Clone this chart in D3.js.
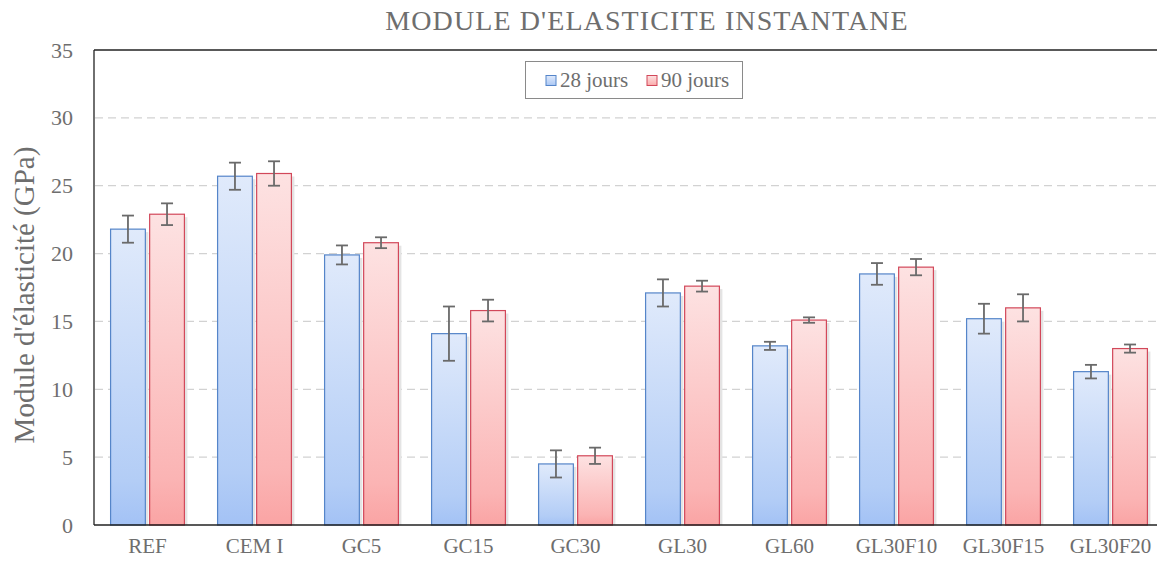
<!DOCTYPE html>
<html><head><meta charset="utf-8">
<script src="https://cdn.jsdelivr.net/npm/d3@7"></script>
<style>body{margin:0;background:#fff}svg{display:block}</style>
</head><body>
<script>
const categories = ["REF","CEM I","GC5","GC15","GC30","GL30","GL60","GL30F10","GL30F15","GL30F20"];
const seriesNames = ["28 jours","90 jours"];
const values28 = [21.8,25.7,19.9,14.1,4.5,17.1,13.2,18.5,15.2,11.3];
const errors28 = [1.0,1.0,0.7,2.0,1.0,1.0,0.3,0.8,1.1,0.5];
const values90 = [22.9,25.9,20.8,15.8,5.1,17.6,15.1,19.0,16.0,13.0];
const errors90 = [0.8,0.9,0.4,0.8,0.6,0.4,0.2,0.6,1.0,0.3];
const yTicks = [0,5,10,15,20,25,30,35];
const title = "MODULE D'ELASTICITE INSTANTANE";
const yTitle = "Module d'élasticité (GPa)";

const W = 1157, H = 565;
const m = {left:94, top:50, right:1164, bottom:525};
const svg = d3.select("body").append("svg").attr("width",W).attr("height",H);
const defs = svg.append("defs");
const gb = defs.append("linearGradient").attr("id","gBlue").attr("x1",0).attr("y1",0).attr("x2",0).attr("y2",1);
gb.append("stop").attr("offset","0%").attr("stop-color","#e0eafb");
gb.append("stop").attr("offset","85%").attr("stop-color","#b3cdf6");
gb.append("stop").attr("offset","100%").attr("stop-color","#a3c2f5");
const gr = defs.append("linearGradient").attr("id","gRed").attr("x1",0).attr("y1",0).attr("x2",0).attr("y2",1);
gr.append("stop").attr("offset","0%").attr("stop-color","#fde2e2");
gr.append("stop").attr("offset","85%").attr("stop-color","#fbb4b4");
gr.append("stop").attr("offset","100%").attr("stop-color","#faa4a4");

const font = "Liberation Serif, Times New Roman, serif";
const y = d3.scaleLinear().domain([0,35]).range([m.bottom,m.top]);
const x = d3.scaleBand().domain(categories).range([m.left,m.right]).paddingInner(0.31).paddingOuter(0.155);
const xs = d3.scaleBand().domain(seriesNames).range([0,x.bandwidth()]).paddingInner(0.11);

// grid
svg.append("g").selectAll("line").data(yTicks.filter(t=>t>0&&t<35)).join("line")
  .attr("x1",m.left+1).attr("x2",W).attr("y1",d=>y(d)).attr("y2",d=>y(d))
  .attr("stroke","#d2d2d2").attr("stroke-width",1.2).attr("stroke-dasharray","8,5");

// y axis labels
const yAxis = d3.axisLeft(y).tickValues(yTicks).tickSize(0).tickPadding(21);
const ya = svg.append("g").attr("transform",`translate(${m.left},0)`).call(yAxis)
  .attr("font-family",font).attr("font-size",22);
ya.select(".domain").remove();
ya.selectAll("text").style("font-family",font).attr("font-size",22).attr("fill","#6e6e6e");

// x axis labels
const xAxis = d3.axisBottom(x).tickSize(0).tickPadding(13);
const xa = svg.append("g").attr("transform",`translate(0,${m.bottom})`).call(xAxis)
  .attr("font-family",font).attr("font-size",21);
xa.select(".domain").remove();
xa.selectAll("text").style("font-family",font).attr("font-size",21).attr("fill","#6e6e6e");

const data = categories.map((c,i)=>({c, s:[
  {name:seriesNames[0], v:values28[i], e:errors28[i], fill:"url(#gBlue)", stroke:"#5585c9"},
  {name:seriesNames[1], v:values90[i], e:errors90[i], fill:"url(#gRed)", stroke:"#d2485a"}]}));

const groups = svg.append("g").selectAll("g").data(data).join("g")
  .attr("transform",d=>`translate(${x(d.c)},0)`);
// shadows
groups.selectAll("rect.sh").data(d=>d.s).join("rect").attr("class","sh")
  .attr("x",d=>xs(d.name)+3).attr("y",d=>y(d.v)+3).attr("width",xs.bandwidth())
  .attr("height",d=>m.bottom-y(d.v)-3).attr("fill","#e4e4e4");
groups.selectAll("rect.bar").data(d=>d.s).join("rect").attr("class","bar")
  .attr("x",d=>xs(d.name)).attr("y",d=>y(d.v)).attr("width",xs.bandwidth())
  .attr("height",d=>m.bottom-y(d.v)).attr("fill",d=>d.fill).attr("stroke",d=>d.stroke).attr("stroke-width",1.2);
// error bars
const eb = groups.selectAll("g.eb").data(d=>d.s).join("g").attr("class","eb")
  .attr("stroke","#6a6a6a").attr("stroke-width",1.8);
eb.append("line").attr("x1",d=>xs(d.name)+xs.bandwidth()/2).attr("x2",d=>xs(d.name)+xs.bandwidth()/2)
  .attr("y1",d=>y(d.v+d.e)).attr("y2",d=>y(d.v-d.e));
eb.append("line").attr("x1",d=>xs(d.name)+xs.bandwidth()/2-6).attr("x2",d=>xs(d.name)+xs.bandwidth()/2+6)
  .attr("y1",d=>y(d.v+d.e)).attr("y2",d=>y(d.v+d.e));
eb.append("line").attr("x1",d=>xs(d.name)+xs.bandwidth()/2-6).attr("x2",d=>xs(d.name)+xs.bandwidth()/2+6)
  .attr("y1",d=>y(d.v-d.e)).attr("y2",d=>y(d.v-d.e));

// frame
svg.append("line").attr("x1",m.left).attr("x2",W).attr("y1",m.top).attr("y2",m.top).attr("stroke","#222").attr("stroke-width",1.3);
svg.append("line").attr("x1",m.left).attr("x2",W).attr("y1",m.bottom).attr("y2",m.bottom).attr("stroke","#222").attr("stroke-width",1.3);
svg.append("line").attr("x1",m.left).attr("x2",m.left).attr("y1",m.top).attr("y2",m.bottom).attr("stroke","#222").attr("stroke-width",1.3);

// title
svg.append("text").attr("x",647).attr("y",30).attr("text-anchor","middle")
  .style("font-family",font).attr("font-size",28).attr("fill","#6e6e6e").attr("letter-spacing",1.1).text(title);
// y title
svg.append("text").attr("transform",`translate(34,295) rotate(-90)`).attr("text-anchor","middle")
  .style("font-family",font).attr("font-size",29).attr("fill","#6e6e6e").text(yTitle);

// legend
const lg = svg.append("g");
lg.append("rect").attr("x",525.5).attr("y",61.5).attr("width",217).attr("height",37).attr("fill","#fff").attr("stroke","#8a8a8a");
const lfills = ["url(#gBlue)","url(#gRed)"], lstr = ["#5585c9","#d2485a"], lx = [546,647];
seriesNames.forEach((n,i)=>{
  lg.append("rect").attr("x",lx[i]).attr("y",75.5).attr("width",10).attr("height",10).attr("fill",lfills[i]).attr("stroke",lstr[i]);
  lg.append("text").attr("x",lx[i]+14).attr("y",87).style("font-family",font).attr("font-size",21).attr("fill","#6e6e6e").text(n);
});
</script>
</body></html>
